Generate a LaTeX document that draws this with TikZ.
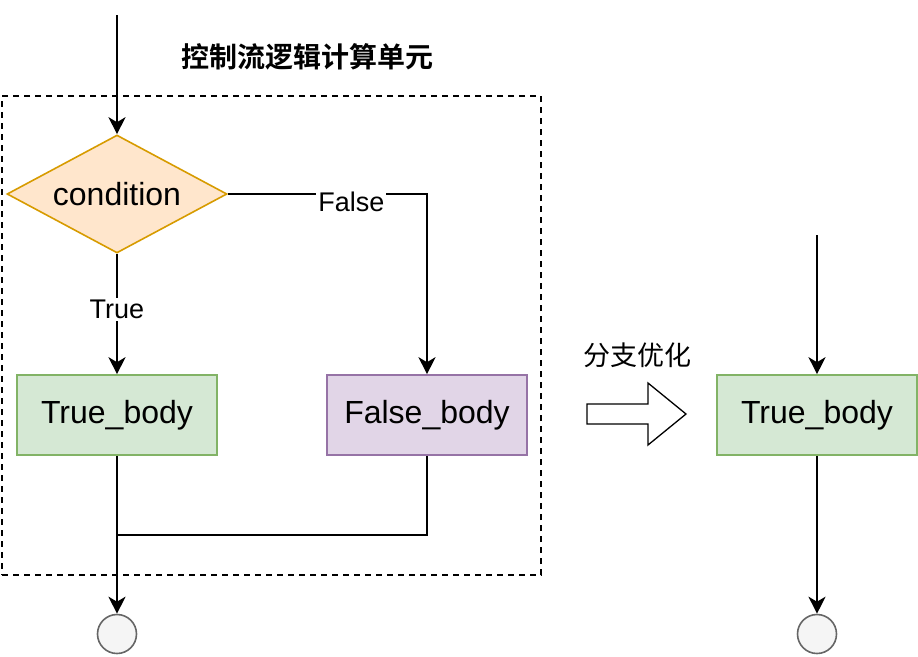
\documentclass[tikz,border=0pt]{standalone}
\usepackage{fontspec}
\setmainfont{Liberation Sans}
\newfontfamily\cjk{Noto Sans CJK SC}
\newfontfamily\cjkbold{Noto Sans CJK SC Bold}
\usetikzlibrary{arrows.meta,shapes.geometric}
\definecolor{dfill}{HTML}{FFE6CC}
\definecolor{dline}{HTML}{D79B00}
\definecolor{gfill}{HTML}{D5E8D4}
\definecolor{gline}{HTML}{82B366}
\definecolor{pfill}{HTML}{E1D5E7}
\definecolor{pline}{HTML}{9673A6}
\definecolor{cfill}{HTML}{F5F5F5}
\definecolor{cline}{HTML}{666666}
\tikzset{
  conn/.style={line width=1.8pt, draw=black},
  arr/.style={conn, -{Stealth[length=17pt,width=17pt,inset=5pt]}},
  bodybox/.style={rectangle, line width=1.6pt, minimum width=200pt, minimum height=80pt, inner sep=0pt, font=\fontsize{32}{36}\selectfont},
  truebox/.style={bodybox, fill=gfill, draw=gline},
  falsebox/.style={bodybox, fill=pfill, draw=pline},
  decision/.style={diamond, aspect=1.86, line width=1.6pt, fill=dfill, draw=dline, minimum width=220pt, minimum height=118pt, inner sep=0pt, font=\fontsize{32}{36}\selectfont},
  endcircle/.style={circle, line width=1.6pt, fill=cfill, draw=cline, minimum size=39pt, inner sep=0pt},
  edgelabel/.style={fill=white, inner sep=2pt, font=\fontsize{27}{30}\selectfont},
}
\begin{document}
\begin{tikzpicture}[x=1pt,y=-1pt]
\useasboundingbox (0,0) rectangle (918,656);
% container
\node[draw=black, line width=1.6pt, dash pattern=on 6pt off 5pt, minimum width=539pt, minimum height=479pt, inner sep=0pt] (frame) at (271.5,335.5) {};
\node[font=\cjkbold\fontsize{28}{30}\selectfont] (title) at (307,57) {控制流逻辑计算单元};
% left flow
\coordinate (start1) at (117,15);
\node[decision] (cond) at (117,194) {condition};
\node[truebox] (tb) at (117,415) {True\_body};
\node[falsebox] (fb) at (427,415) {False\_body};
\node[endcircle] (end1) at (117,634) {};
\coordinate (merge) at (117,535);
\draw[arr] (start1) -- (cond.north);
\draw[arr] (cond.south) -- node[edgelabel, pos=0.46] {True} (tb.north);
\draw[arr] (cond.east) -| node[edgelabel, pos=0.31, yshift=-8pt] {False} (fb.north);
\draw[arr] (tb.south) -- (end1.north);
\draw[conn] (fb.south) |- (merge);
% middle
\node[font=\cjk\fontsize{27}{30}\selectfont] (opt) at (637,355) {分支优化};
\draw[line width=1.3pt, fill=white] (587,404) -- (648,404) -- (648,383) -- (686,414) -- (648,445) -- (648,424) -- (587,424) -- cycle;
% right flow
\coordinate (start2) at (817,235);
\node[truebox] (tb2) at (817,415) {True\_body};
\node[endcircle] (end2) at (817,634) {};
\draw[arr] (start2) -- (tb2.north);
\draw[arr] (tb2.south) -- (end2.north);
\end{tikzpicture}
\end{document}
